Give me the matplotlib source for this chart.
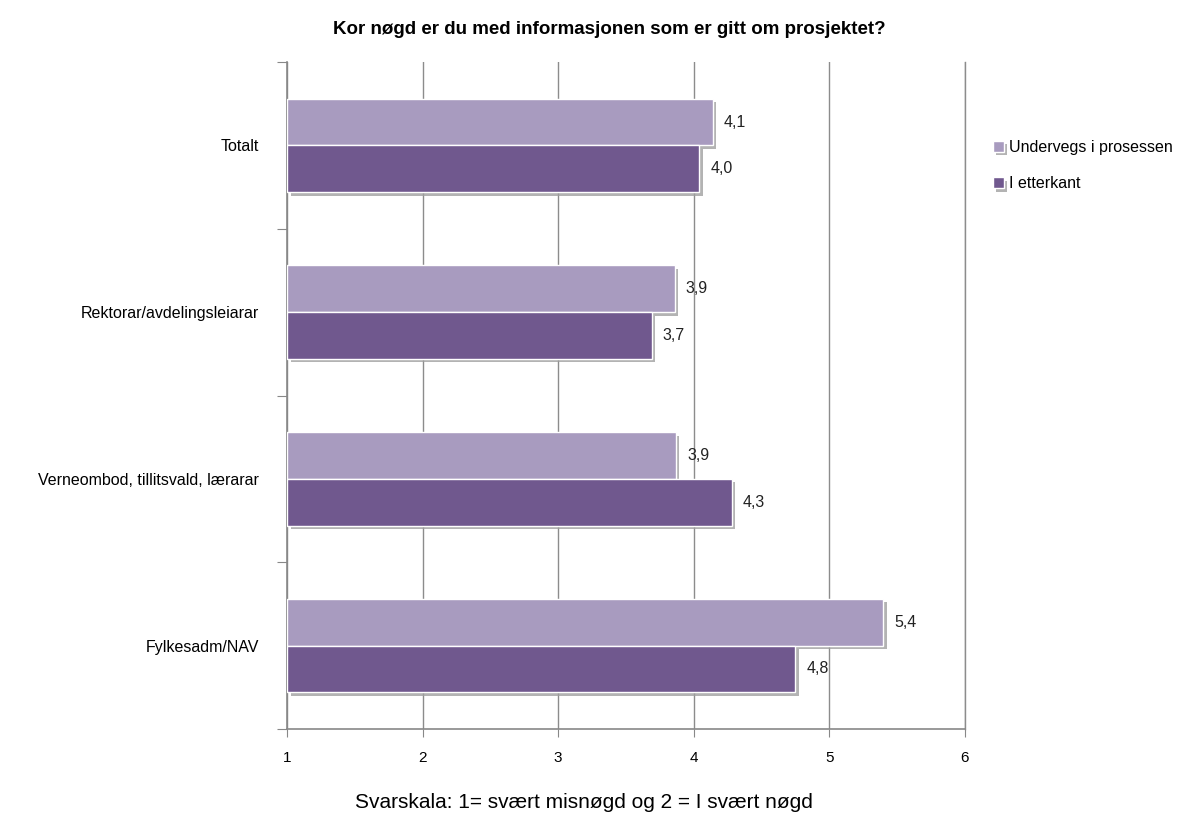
import matplotlib
matplotlib.use('Agg')
import matplotlib.pyplot as plt
import matplotlib.patheffects as pe
import numpy as np

plt.rcParams['font.family'] = ['Liberation Sans Narrow', 'Liberation Sans', 'DejaVu Sans']

categories = ['Totalt', 'Rektorar/avdelingsleiarar', 'Verneombod, tillitsvald, lærarar', 'Fylkesadm/NAV']
undervegs = [4.14, 3.86, 3.87, 5.40]
etterkant = [4.04, 3.69, 4.28, 4.75]
series_names = ['Undervegs i prosessen', 'I etterkant']
xticks = [1, 2, 3, 4, 5, 6]

col_light = '#A89BBF'
col_dark = '#70588E'

fig = plt.figure(figsize=(11.91, 8.25), dpi=100)
ax = fig.add_axes([0.241, 0.1164, 0.569, 0.8084])

y = np.arange(len(categories))
h = 0.28
shadow = [pe.SimplePatchShadow(offset=(2.5, -2.5), shadow_rgbFace='#A0A0A0', alpha=0.8), pe.Normal()]

b1 = ax.barh(y - h / 2, np.array(undervegs) - 1, left=1, height=h, color=col_light,
             edgecolor='white', linewidth=1, label=series_names[0], zorder=3)
b2 = ax.barh(y + h / 2, np.array(etterkant) - 1, left=1, height=h, color=col_dark,
             edgecolor='white', linewidth=1, label=series_names[1], zorder=3)
for bars in (b1, b2):
    for p in bars:
        p.set_path_effects(shadow)

for vals, off in ((undervegs, -h / 2), (etterkant, h / 2)):
    for yi, v in zip(y, vals):
        ax.annotate(f'{v:.1f}'.replace('.', ','), (v, yi + off), xytext=(8, 0),
                    textcoords='offset points', va='center', ha='left', fontsize=11.5, color='#222222')

ax.set_xlim(1, 6)
ax.set_ylim(len(categories) - 0.5, -0.5)
ax.set_xticks(xticks)
ax.set_xticklabels([str(t) for t in xticks], fontsize=11)
ax.set_yticks(np.arange(len(categories) + 1) - 0.5)
ax.set_yticklabels([])
ax.set_yticks(y, minor=True)
ax.set_yticklabels(categories, minor=True, fontsize=11.5)
ax.tick_params(axis='y', which='major', length=7, color='#888888')
ax.tick_params(axis='y', which='minor', length=0, pad=20)
ax.tick_params(axis='x', length=6, color='#888888', pad=10)

ax.grid(axis='x', color='#8C8C8C', linewidth=1, zorder=0)
ax.axvline(6, color='#8C8C8C', linewidth=1, zorder=0, clip_on=False)
for s in ('top', 'right'):
    ax.spines[s].set_visible(False)
for s in ('left', 'bottom'):
    ax.spines[s].set_color('#888888')
    ax.spines[s].set_linewidth(1.2)

ax.set_title('Kor nøgd er du med informasjonen som er gitt om prosjektet?',
             fontsize=13.5, fontweight='bold', pad=20, x=0.475)

leg = ax.legend(loc='upper left', bbox_to_anchor=(1.02, 0.905), frameon=False, fontsize=11.5,
                handlelength=0.7, handleheight=0.7, handletextpad=0.3, labelspacing=1.35)

fig.text(0.49, 0.02, 'Svarskala: 1= svært misnøgd og 2 = I svært nøgd', ha='center', fontsize=15)

fig.savefig('out.png', dpi=100)
